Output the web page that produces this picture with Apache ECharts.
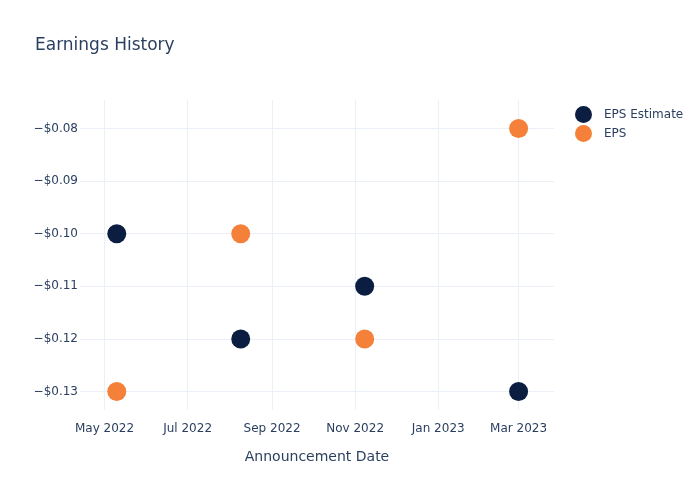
<!DOCTYPE html>
<html><head><meta charset="utf-8">
<script src="https://cdn.jsdelivr.net/npm/echarts@6/dist/echarts.min.js"></script>
<style>html,body{margin:0;padding:0;background:#fff}#c{width:700px;height:500px}</style>
</head><body><div id="c"></div>
<script>
const dates = ['2022-05-10', '2022-08-09', '2022-11-08', '2023-03-01'];
const epsEstimate = [-0.10, -0.12, -0.11, -0.13];
const eps = [-0.13, -0.10, -0.12, -0.08];
const xTicks = ['2022-05-01', '2022-07-01', '2022-09-01', '2022-11-01', '2023-01-01', '2023-03-01'];
const xTickLabels = ['May 2022', 'Jul 2022', 'Sep 2022', 'Nov 2022', 'Jan 2023', 'Mar 2023'];
const yTicks = [-0.13, -0.12, -0.11, -0.10, -0.09, -0.08];

const ts = d => new Date(d + 'T00:00:00Z').getTime();
const xTickTs = xTicks.map(ts);
const font = 'DejaVu Sans, sans-serif';
const txt = '#2a3f5f';
const grid = '#ebf0f8';

const chart = echarts.init(document.getElementById('c'), null, {renderer: 'canvas'});
chart.setOption({
  animation: false,
  backgroundColor: '#fff',
  textStyle: {fontFamily: font},
  title: {text: 'Earnings History', left: 30, top: 32,
    textStyle: {fontFamily: font, fontSize: 17, fontWeight: 'normal', color: txt}},
  legend: {orient: 'vertical', left: 570, top: 101, itemGap: 2, itemWidth: 17, itemHeight: 17,
    icon: 'circle', textStyle: {fontFamily: font, fontSize: 12, color: txt, padding: [0, 0, 0, 7]},
    data: ['EPS Estimate', 'EPS']},
  grid: {left: 80, right: 146, top: 100, bottom: 90, containLabel: false},
  xAxis: {
    type: 'value', min: ts('2022-04-13'), max: ts('2023-03-27'),
    name: 'Announcement Date', nameLocation: 'middle', nameGap: 40,
    nameTextStyle: {fontFamily: font, fontSize: 14, color: txt},
    axisLine: {show: false}, axisTick: {show: false, customValues: xTickTs},
    axisLabel: {customValues: xTickTs, margin: 13, fontFamily: font, fontSize: 12, color: txt,
      formatter: v => { const i = xTickTs.indexOf(v); return i >= 0 ? xTickLabels[i] : ''; }},
    splitLine: {show: true, lineStyle: {color: grid, width: 1}}
  },
  yAxis: {
    type: 'value', min: -0.1335, max: -0.0746,
    axisLine: {show: false}, axisTick: {show: false, customValues: yTicks},
    axisLabel: {customValues: yTicks, margin: 2, fontFamily: font, fontSize: 12, color: txt,
      formatter: v => '\u2212$' + Math.abs(v).toFixed(2)},
    splitLine: {show: true, lineStyle: {color: grid, width: 1}}
  },
  series: [
    {name: 'EPS Estimate', type: 'scatter', symbolSize: 19, itemStyle: {color: '#0b1e42', opacity: 1},
      data: dates.map((d, i) => [ts(d), epsEstimate[i]])},
    {name: 'EPS', type: 'scatter', symbolSize: 19, itemStyle: {color: '#f5803a', opacity: 1},
      data: dates.map((d, i) => [ts(d), eps[i]])}
  ]
});
</script></body></html>
